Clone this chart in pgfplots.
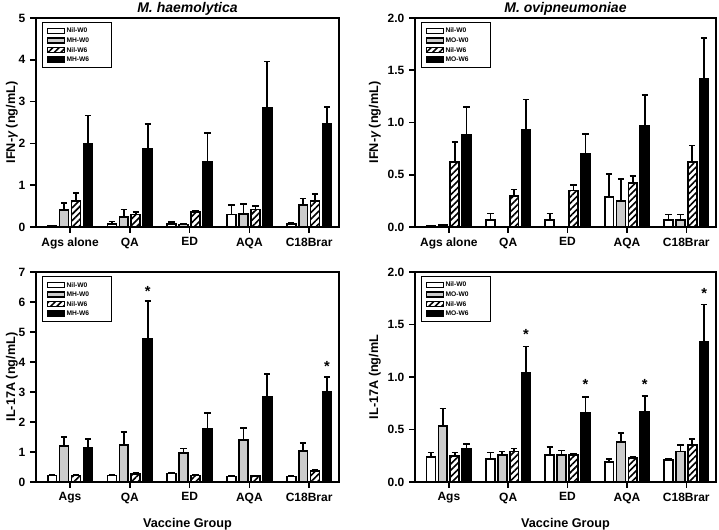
\documentclass[border=0pt]{standalone}
\usepackage{fontspec}
\setmainfont{Liberation Sans}
\usepackage{pgfplots}
\pgfplotsset{compat=1.18}
\usepackage{pgfplotstable}
\usetikzlibrary{patterns.meta}

% columns: group, Nil-W0, err, Ag-W0, err, Nil-W6, err, Ag-W6, err
\pgfplotstableread{
g nw0 nw0e mw0 mw0e nw6 nw6e mw6 mw6e
1 0.02 0.00 0.40 0.18 0.62 0.20 2.00 0.67
2 0.08 0.05 0.24 0.18 0.30 0.06 1.88 0.59
3 0.07 0.05 0.06 0.01 0.35 0.04 1.55 0.70
4 0.30 0.22 0.31 0.24 0.42 0.08 2.85 1.11
5 0.08 0.03 0.53 0.15 0.62 0.17 2.46 0.41
}\ifnMH
\pgfplotstableread{
g nw0 nw0e mw0 mw0e nw6 nw6e mw6 mw6e
1 0.01 0.00 0.02 0.00 0.62 0.19 0.88 0.27
2 0.07 0.06 0.00 0.00 0.30 0.06 0.93 0.29
3 0.07 0.06 0.00 0.00 0.35 0.05 0.70 0.19
4 0.29 0.22 0.25 0.21 0.42 0.07 0.97 0.29
5 0.07 0.05 0.07 0.05 0.62 0.16 1.42 0.39
}\ifnMO
\pgfplotstableread{
g nw0 nw0e mw0 mw0e nw6 nw6e mw6 mw6e
1 0.22 0.03 1.21 0.29 0.22 0.03 1.15 0.28
2 0.22 0.03 1.24 0.43 0.27 0.03 4.78 1.26
3 0.28 0.03 0.97 0.15 0.22 0.03 1.76 0.53
4 0.18 0.02 1.39 0.40 0.20 0.02 2.84 0.77
5 0.18 0.02 1.03 0.26 0.36 0.04 3.02 0.47
}\ilMH
\pgfplotstableread{
g nw0 nw0e mw0 mw0e nw6 nw6e mw6 mw6e
1 0.24 0.04 0.53 0.17 0.25 0.03 0.32 0.04
2 0.22 0.06 0.26 0.03 0.29 0.03 1.04 0.25
3 0.26 0.07 0.26 0.04 0.26 0.01 0.66 0.15
4 0.19 0.03 0.38 0.09 0.23 0.01 0.67 0.15
5 0.21 0.01 0.29 0.06 0.35 0.06 1.33 0.36
}\ilMO

\pgfplotsset{
  bar/.style={ybar, bar width=0.15, bar shift=0pt, draw=black, line width=1.3pt,
    error bars/y dir=plus, error bars/y explicit,
    error bars/error bar style={line width=1.2pt, black},
    error bars/error mark options={rotate=90, mark size=2.4pt, line width=1.3pt, black}},
  hatch/.style={fill=white, postaction={pattern={Lines[angle=45, distance=3.4pt, line width=1.2pt]}}},
  star/.style={only marks, mark=text, forget plot,
    text mark={\fontsize{11}{11}\bfseries\selectfont *}},
  every axis title/.style={at={(0.5,1)}, anchor=base, yshift=3.8pt,
    font=\fontsize{10.5}{12}\bfseries\itshape\selectfont},
  panel/.style={scale only axis, xmin=0.43, xmax=5.5, ymin=0,
    xtick={1,2,3,4,5}, xtick pos=left, ytick pos=left, tick align=outside,
    major tick length=4.5pt, tick style={black, line width=1.2pt},
    axis line style={line width=1.2pt},
    /pgf/number format/assume math mode=true,
    ticklabel style={font=\fontsize{9}{10}\bfseries\selectfont},
    label style={font=\fontsize{9.5}{11}\bfseries\selectfont},
    xlabel style={yshift=-4pt},
    legend cell align=left,
    legend image code/.code={\draw[##1, line width=1pt] (0pt,-1.9pt) rectangle (13pt,1.9pt);},
    legend style={at={(0.02,0.98)}, anchor=north west, draw=black, line width=0.8pt,
      font=\fontsize{5}{5}\bfseries\selectfont, row sep=1.1pt,
      inner xsep=3pt, inner ysep=3pt,
      nodes={inner sep=1pt, text height=3.7pt, text depth=0.4pt}},
    clip=false},
  onedec/.style={ytick={0,0.5,1,1.5,2}, ymax=2,
    yticklabel style={/pgf/number format/.cd, fixed, fixed zerofill, precision=1},
    ylabel style={at={(axis description cs:-0.133,0.5)}, anchor=center}},
  oneint/.style={ylabel style={at={(axis description cs:-0.08,0.5)}, anchor=center}},
}

\newcommand{\fourbars}[1]{%
  \addplot[bar, fill=white] table[x expr=\thisrow{g}-0.3, y=nw0, y error=nw0e]{#1};
  \addplot[bar, fill=gray!40] table[x expr=\thisrow{g}-0.1, y=mw0, y error=mw0e]{#1};
  \addplot[bar, hatch] table[x expr=\thisrow{g}+0.1, y=nw6, y error=nw6e]{#1};
  \addplot[bar, fill=black] table[x expr=\thisrow{g}+0.3, y=mw6, y error=mw6e]{#1};
}
\newcommand{\legtxt}[1]{\makebox[30pt][l]{#1}}

\begin{document}
\begin{tikzpicture}
\path[use as bounding box] (0pt,0pt) rectangle (539.25pt,-397.5pt);

% top left
\begin{axis}[panel, oneint, at={(27pt,-170.25pt)}, anchor=south west,
  width=227.25pt, height=156.75pt, ymax=5, ytick={0,1,2,3,4,5},
  xticklabels={Ags alone, QA, ED, AQA, C18Brar},
  title={M. haemolytica}, ylabel={IFN-{\itshape γ} (ng/mL)},
  legend entries={\legtxt{Nil-W0}, \legtxt{MH-W0}, \legtxt{Nil-W6}, \legtxt{MH-W6}}]
  \fourbars{\ifnMH}
\end{axis}

% top right
\begin{axis}[panel, onedec, at={(311.25pt,-170.25pt)}, anchor=south west,
  width=225.75pt, height=156.75pt,
  xticklabels={Ags alone, QA, ED, AQA, C18Brar},
  title={M. ovipneumoniae}, ylabel={IFN-{\itshape γ} (ng/mL)},
  legend entries={\legtxt{Nil-W0}, \legtxt{MO-W0}, \legtxt{Nil-W6}, \legtxt{MO-W6}}]
  \fourbars{\ifnMO}
\end{axis}

% bottom left
\begin{axis}[panel, oneint, at={(27pt,-361.5pt)}, anchor=south west,
  width=227.25pt, height=157.5pt, ymax=7, ytick={0,1,2,3,4,5,6,7},
  xticklabels={Ags, QA, ED, AQA, C18Brar},
  xlabel={Vaccine Group}, ylabel={IL-17A (ng/mL)},
  legend entries={\legtxt{Nil-W0}, \legtxt{MH-W0}, \legtxt{Nil-W6}, \legtxt{MH-W6}}]
  \fourbars{\ilMH}
  \addplot[star] coordinates {(2.3,6.35) (5.3,3.85)};
\end{axis}

% bottom right
\begin{axis}[panel, onedec, at={(311.25pt,-361.5pt)}, anchor=south west,
  width=225.75pt, height=157.5pt,
  xticklabels={Ags, QA, ED, AQA, C18Brar},
  xlabel={Vaccine Group}, ylabel={IL-17A (ng/mL},
  legend entries={\legtxt{Nil-W0}, \legtxt{MO-W0}, \legtxt{Nil-W6}, \legtxt{MO-W6}}]
  \fourbars{\ilMO}
  \addplot[star] coordinates {(2.3,1.405) (3.3,0.925) (4.3,0.925) (5.3,1.795)};
\end{axis}
\end{tikzpicture}
\end{document}
